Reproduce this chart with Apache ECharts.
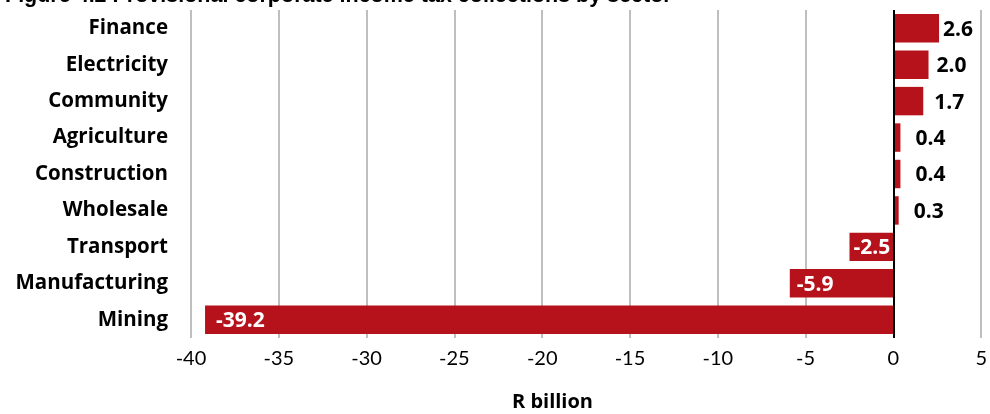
<!DOCTYPE html>
<html><head><meta charset="utf-8">
<script src="https://cdn.jsdelivr.net/npm/echarts@6/dist/echarts.min.js"></script>
<style>html,body{margin:0;padding:0;background:#fff}#c{width:990px;height:414px}</style>
</head><body><div id="c"></div>
<script>
const categories = ["Finance","Electricity","Community","Agriculture","Construction","Wholesale","Transport","Manufacturing","Mining"];
const values = [2.6, 2.0, 1.7, 0.4, 0.4, 0.3, -2.5, -5.9, -39.2];
const titleText = "Figure 4.2 Provisional corporate income tax collections by sector";
const axisName = "R billion";
// label offsets (style only), matching the hand-placed labels of the original
const labelGap = [4, 8, 11, 15, 15, 15, 4, 7, 11];
const FONT = "'Open Sans', sans-serif";
const chart = echarts.init(document.getElementById('c'));
chart.setOption({
  animation: false,
  title: {text: titleText, left: 0, top: -20, textStyle: {fontFamily: "'Liberation Sans', Arial, sans-serif", fontWeight: 'bold', fontSize: 21.5, color: '#000'}},
  grid: {left: 191, right: 7, top: 10, bottom: 76, containLabel: false},
  xAxis: {type: 'value', min: -40, max: 5, interval: 5,
    axisLine: {show: false}, axisTick: {show: false},
    axisLabel: {fontFamily: "Lato, sans-serif", fontSize: 20, color: '#000', margin: 11, formatter: v => String(v)},
    splitLine: {show: true, lineStyle: {color: '#BFBFBF', width: 2}}},
  yAxis: {type: 'category', data: categories, inverse: true,
    axisLine: {show: false}, axisTick: {show: false},
    axisLabel: {fontFamily: FONT, fontSize: 20.5, fontWeight: 'bold', color: '#000', margin: 23, padding: [4, 0, 0, 0]}},
  graphic: [{type: 'text', left: 512, top: 392, style: {text: axisName, fontFamily: FONT, fontSize: 20, fontWeight: 'bold', fill: '#000'}}],
  series: [{type: 'bar', barCategoryGap: '22%',
    data: values.map((v, i) => ({value: v, label: {position: v < 0 ? 'insideLeft' : 'right', color: v < 0 ? '#fff' : '#000', distance: labelGap[i]}})),
    itemStyle: {color: '#B5121B'},
    label: {show: true, fontFamily: FONT, fontSize: 21, fontWeight: 'bold', offset: [0, 1.5], formatter: p => p.value.toFixed(1)},
    markLine: {silent: true, symbol: 'none', label: {show: false}, lineStyle: {color: '#000', width: 2, type: 'solid'}, data: [{xAxis: 0}]}
  }]
});
</script></body></html>
